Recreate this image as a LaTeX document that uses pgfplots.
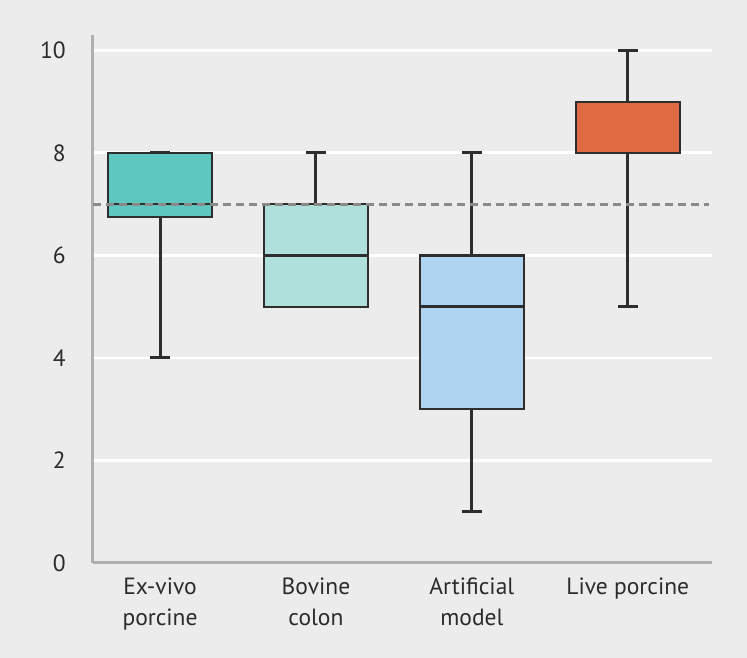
\documentclass[border=0pt]{standalone}
\usepackage{fontspec}
\setmainfont{PT Sans}
\usepackage{pgfplots}
\pgfplotsset{compat=1.18}
\usepgfplotslibrary{statistics}

\definecolor{bg}{HTML}{EBECEB}
\definecolor{axisgray}{HTML}{ADAFB1}
\definecolor{dashgray}{HTML}{8A8A8A}
\definecolor{darkline}{HTML}{2E2E2E}
\definecolor{textcol}{HTML}{2B2B2B}
\definecolor{exvivo}{HTML}{5EC7BF}
\definecolor{bovine}{HTML}{B0E0DC}
\definecolor{artificial}{HTML}{AED4F1}
\definecolor{live}{HTML}{E06A42}

\begin{document}
\begin{tikzpicture}
% page background
\path[use as bounding box, fill=bg] (-93pt,-95pt) rectangle (654pt,563pt);
\begin{axis}[
  at={(0pt,0pt)}, anchor=south west,
  scale only axis, width=619pt, height=528pt,
  xmin=-0.43, xmax=3.54, ymin=0, ymax=10.3,
  axis lines=left,
  axis line style={-, draw=axisgray, line width=3pt},
  major tick length=0pt,
  tick style={draw=none},
  ytick={0,2,4,6,8,10},
  ymajorgrids,
  major grid style={draw=white, line width=2.8pt},
  xtick={0,1,2,3},
  xticklabels={Ex-vivo\\porcine, Bovine\\colon, Artificial\\model, Live porcine},
  /pgf/number format/assume math mode=true,
  every tick label/.append style={font=\fontsize{23.5}{31}\selectfont, text=textcol},
  yticklabel style={anchor=east, inner sep=0pt, xshift=-27pt},
  xticklabel style={anchor=north, align=center, inner sep=0pt, yshift=-15pt},
  boxplot/draw direction=y,
  boxplot/box extend=0.667,
  boxplot/whisker extend=0.128,
  boxplot/every box/.style={draw=darkline, line width=2.2pt},
  boxplot/every whisker/.style={draw=darkline, line width=3pt},
  boxplot/every median/.style={draw=darkline, line width=2.6pt},
]
% Ex-vivo porcine
\addplot[draw=darkline, fill=exvivo, boxplot prepared={draw position=0,
  lower whisker=4, lower quartile=6.75, median=7, upper quartile=8, upper whisker=8}]
  coordinates {};
% Bovine colon
\addplot[draw=darkline, fill=bovine, boxplot prepared={draw position=1,
  lower whisker=5, lower quartile=5, median=6, upper quartile=7, upper whisker=8}]
  coordinates {};
% Artificial model
\addplot[draw=darkline, fill=artificial, boxplot prepared={draw position=2,
  lower whisker=1, lower quartile=3, median=5, upper quartile=6, upper whisker=8}]
  coordinates {};
% Live porcine
\addplot[draw=darkline, fill=live, boxplot prepared={draw position=3,
  lower whisker=5, lower quartile=8, median=8, upper quartile=9, upper whisker=10}]
  coordinates {};
% reference level
\addplot[draw=dashgray, line width=3pt, dash pattern=on 8pt off 5pt]
  coordinates {(-0.43,7) (3.52,7)};
\end{axis}
\end{tikzpicture}
\end{document}
